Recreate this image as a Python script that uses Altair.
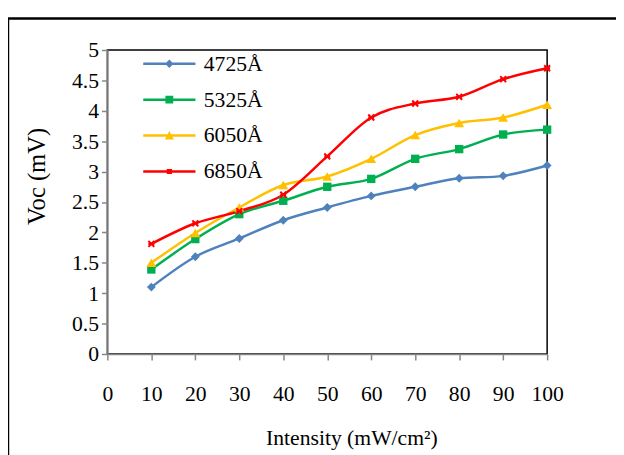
import altair as alt
import pandas as pd

intensity = [10, 20, 30, 40, 50, 60, 70, 80, 90, 100]
series_names = ["4725Å", "5325Å", "6050Å", "6850Å"]
v4725 = [1.1, 1.6, 1.9, 2.2, 2.41, 2.6, 2.75, 2.89, 2.93, 3.1]
v5325 = [1.39, 1.89, 2.3, 2.52, 2.75, 2.88, 3.21, 3.37, 3.61, 3.69]
v6050 = [1.5, 1.99, 2.41, 2.78, 2.92, 3.21, 3.6, 3.8, 3.89, 4.1]
v6850 = [1.81, 2.15, 2.35, 2.62, 3.25, 3.89, 4.12, 4.23, 4.52, 4.7]
x_ticks = [0, 10, 20, 30, 40, 50, 60, 70, 80, 90, 100]
y_ticks = [0, 0.5, 1, 1.5, 2, 2.5, 3, 3.5, 4, 4.5, 5]
colors = ["#4F81BD", "#00B050", "#FFC000", "#FF0000"]

rows = []
for name, vals in zip(series_names, [v4725, v5325, v6050, v6850]):
    for xv, yv in zip(intensity, vals):
        rows.append({"Intensity": xv, "Voc": yv, "Series": name})
df = pd.DataFrame(rows)

FONT = "Liberation Serif"
xenc = alt.X("Intensity:Q", scale=alt.Scale(domain=[0, 100], nice=False),
             axis=alt.Axis(values=x_ticks, title="Intensity (mW/cm²)", grid=False,
                           labelFlush=False, labelFontSize=22, titleFontSize=22,
                           labelPadding=24, titlePadding=24, titleX=248, tickSize=6))
yenc = alt.Y("Voc:Q", scale=alt.Scale(domain=[0, 5], nice=False),
             axis=alt.Axis(values=y_ticks, title="Voc (mV)", grid=False, format="~g",
                           labelFontSize=22, titleFontSize=25,
                           labelPadding=3, titlePadding=22, titleY=128, tickSize=6))

base = alt.Chart(df)

legend_paths = [
    "M-4,-0.19L4,-0.19L4,0.19L-4,0.19Z M0,-0.65L0.65,0L0,0.65L-0.65,0Z",
    "M-4,-0.19L4,-0.19L4,0.19L-4,0.19Z M-0.6,-0.6L0.6,-0.6L0.6,0.6L-0.6,0.6Z",
    "M-4,-0.19L4,-0.19L4,0.19L-4,0.19Z M0,-0.7L0.7,0.6L-0.7,0.6Z",
    "M-4,-0.19L4,-0.19L4,0.19L-4,0.19Z M-0.4,-0.4L0.4,-0.4L0.4,0.4L-0.4,0.4Z",
]
legend_cfg = alt.Legend(title=None, orient="none", legendX=52, legendY=3,
                        symbolSize=176, labelOffset=24, rowPadding=14.5,
                        labelFont=FONT, labelFontSize=22, labelColor="black",
                        symbolOpacity=1, symbolStrokeWidth=0, padding=0)
legend_layer = base.mark_point(filled=True, opacity=0).encode(
    x=xenc, y=yenc,
    color=alt.Color("Series:N", scale=alt.Scale(domain=series_names, range=colors),
                    legend=legend_cfg),
    shape=alt.Shape("Series:N", scale=alt.Scale(domain=series_names, range=legend_paths),
                    legend=legend_cfg),
)

frame = alt.Chart(pd.DataFrame({"k": [0]})).mark_rect(
    fill=None, stroke="black", strokeWidth=2.5, clip=False
).encode(x=alt.value(-101), x2=alt.value(800), y=alt.value(-32), y2=alt.value(700))

marker_shapes = ["diamond", "square", "triangle-up", "M-1,-1L1,1M1,-1L-1,1M-1,0L1,0"]
marker_sizes = [81, 72, 100, 36]
line_layers = []
point_layers = []
for name, col, shp, sz in zip(series_names, colors, marker_shapes, marker_sizes):
    sub = base.transform_filter(alt.datum.Series == name)
    line_layers.append(
        sub.mark_line(interpolate="cardinal", strokeWidth=2.5, color=col).encode(x=xenc, y=yenc)
    )
    filled = name != "6850Å"
    point_layers.append(
        sub.mark_point(shape=shp, size=sz, filled=filled, opacity=1, strokeWidth=2,
                       color=col).encode(x=xenc, y=yenc)
    )

chart = alt.layer(legend_layer, frame, *line_layers, *point_layers).properties(
    width=447, height=309,
    autosize=alt.AutoSizeParams(type="none"),
    padding={"left": 101, "top": 39, "right": 70, "bottom": 100},
).configure_view(stroke="black", strokeWidth=1.5).configure_axis(
    labelFont=FONT, labelColor="black",
    titleFont=FONT, titleColor="black", titleFontWeight="normal",
    domainColor="#868686", tickColor="#868686", domainWidth=1.5, tickWidth=1.5,
)

chart.save("out.html", embed_options={"renderer": "svg", "actions": False})
